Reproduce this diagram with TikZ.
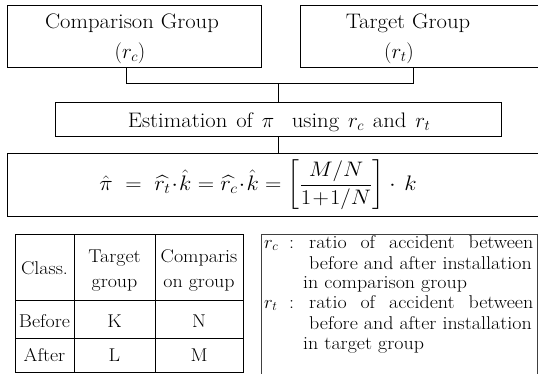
\RequirePackage{fix-cm}
\documentclass[tikz,border=0pt]{standalone}
\usepackage{amsmath}
\usepackage{graphicx}
\usepackage{fontspec}
\setmainfont{Latin Modern Roman}[FakeStretch=1.08]
\begin{document}
\begin{tikzpicture}[x=1pt,y=-1pt,
  box/.style={draw=black, line width=0.9pt, rectangle, inner sep=0pt},
  big/.style={font=\fontsize{21}{23}\selectfont, inner sep=0pt, anchor=base},
  sm/.style={font=\fontsize{18.5}{20}\selectfont, inner sep=0pt, anchor=base},
  lg/.style={font=\fontsize{18.5}{20}\selectfont, inner sep=0pt, anchor=base west},
  conn/.style={draw=black, line width=0.9pt},
  tline/.style={draw=black, line width=0.9pt}]
\useasboundingbox (0,0) rectangle (538,373);
\clip (0,0) rectangle (538,373);
% top boxes
\node[box, minimum width=254pt, minimum height=62pt] (cg) at (134,36) {};
\node[box, minimum width=260pt, minimum height=62pt] (tg) at (430,36) {};
\node[big] (cgt1) at (132,28) {Comparison Group};
\node[big] (cgt2) at (130,58) {$(r_c)$};
\node[big] (tgt1) at (408,28) {Target Group};
\node[big] (tgt2) at (399,58) {$(r_t)$};
% estimation box
\node[box, minimum width=446pt, minimum height=34pt] (est) at (278,119) {};
\node[big] (estt) at (279,127) {\spaceskip=0.42em Estimation of $\pi$\ \ using $r_c$ and $r_t$};
% formula box
\node[box, minimum width=553pt, minimum height=63pt] (fm) at (283.5,184.5) {};
\node[font=\fontsize{21}{24}\selectfont, inner sep=0pt] (fmt) at (258,185)
  {\scalebox{1.08}[1]{$\hat{\pi}\;=\;\widehat{r_t}\!\cdot\!\hat{k}=\widehat{r_c}\!\cdot\!\hat{k}=\left[\dfrac{M/N}{1\!+\!1/N}\right]\cdot\,k$}};
% connectors
\coordinate (jl) at (126,83);
\coordinate (jr) at (413,83);
\coordinate (jm) at (278,83);
\draw[conn] (cg.south -| jl) -- (jl) -- (jr) -- (tg.south -| jr);
\draw[conn] (jm) -- (est.north -| jm);
\draw[conn] (est.south -| jm) -- (fm.north -| jm);
% table
\draw[tline] (15,234) rectangle (243,372);
\draw[tline] (74,234) -- (74,372);
\draw[tline] (155,234) -- (155,372);
\draw[tline] (15,300) -- (243,300);
\draw[tline] (15,338) -- (243,338);
\node[sm] (c11) at (44.5,274) {Class.};
\node[sm] (c12a) at (114.5,262) {Target};
\node[sm] (c12b) at (114.5,287) {group};
\node[sm] (c13a) at (199,262) {Comparis};
\node[sm] (c13b) at (199,287) {on\ group};
\node[sm] (c21) at (44.5,327) {Before};
\node[sm] (c22) at (114.5,327) {K};
\node[sm] (c23) at (199,327) {N};
\node[sm] (c31) at (44.5,361) {After};
\node[sm] (c32) at (114.5,361) {L};
\node[sm] (c33) at (199,361) {M};
% legend
\draw[draw=black!75, line width=1pt] (261,234) rectangle (537,380);
\node[lg] (l1a) at (264,248) {$r_c$};
\node[lg] (l1b) at (289,248) {:};
\node[lg] (l1) at (309,248) {\makebox[224pt][s]{ratio of accident between}};
\node[lg] (l2) at (309,269) {before and after installation};
\node[lg] (l3) at (303,288) {in comparison group};
\node[lg] (l4a) at (264,308) {$r_t$};
\node[lg] (l4b) at (289,308) {:};
\node[lg] (l4) at (309,308) {\makebox[224pt][s]{ratio of accident between}};
\node[lg] (l5) at (309,329) {before and after installation};
\node[lg] (l6) at (303,349) {in target group};
\end{tikzpicture}
\end{document}
